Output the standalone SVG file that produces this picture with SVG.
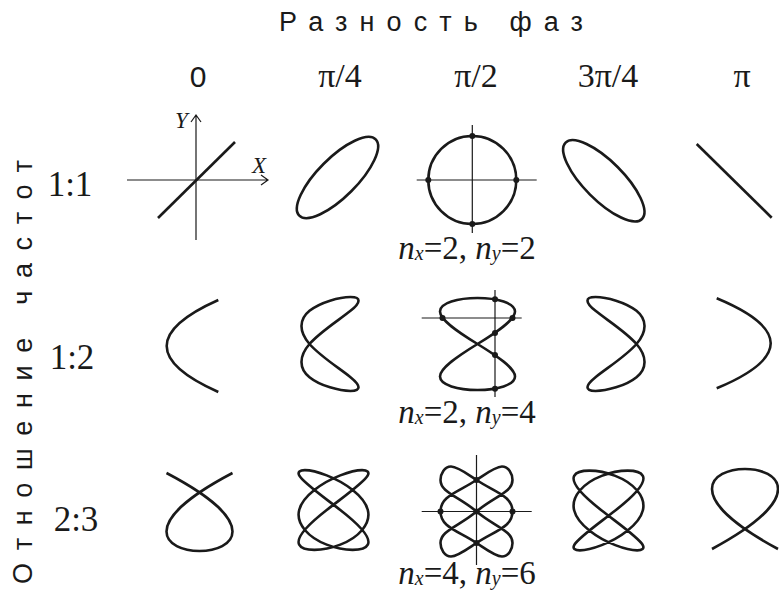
<svg xmlns="http://www.w3.org/2000/svg" width="779" height="593" viewBox="0 0 779 593">
<style>
.c{fill:none;stroke:#1a1a1a;stroke-width:2.6;stroke-linejoin:round;stroke-linecap:butt}
.a{fill:none;stroke:#1a1a1a;stroke-width:1.2}
.d{fill:#1a1a1a}
.sans{font-family:"Liberation Sans",Arial,sans-serif;fill:#1a1a1a}
.serif{font-family:"Liberation Serif","Times New Roman",serif;fill:#1a1a1a}
</style>
<rect width="779" height="593" fill="#fff"/>
<g id="titles">
<text class="sans" x="279" y="31" font-size="27" textLength="304" lengthAdjust="spacing">Разность фаз</text>
<text class="sans" transform="translate(32,584) rotate(-90)" font-size="27" textLength="424" lengthAdjust="spacing">Отношение частот</text>
<text class="sans" x="198" y="87" font-size="30" text-anchor="middle">0</text>
<text class="serif" x="340" y="87" font-size="34" text-anchor="middle">π/4</text>
<text class="serif" x="476" y="87" font-size="34" text-anchor="middle">π/2</text>
<text class="serif" x="608" y="87" font-size="34" text-anchor="middle">3π/4</text>
<text class="serif" x="742" y="87" font-size="34" text-anchor="middle">π</text>
<text class="serif" x="70" y="196" font-size="35" text-anchor="middle">1:1</text>
<text class="serif" x="72" y="369" font-size="35" text-anchor="middle">1:2</text>
<text class="serif" x="76" y="531" font-size="35" text-anchor="middle">2:3</text>
</g>
<g id="r1c0">
<path class="a" d="M127,180H267M261,175L268,180L261,185M196,240V116M191,122L196,115L201,122"/>
<text class="serif" x="175" y="128" font-size="23" font-style="italic">Y</text>
<text class="serif" x="252" y="173" font-size="23" font-style="italic">X</text>
<path class="c" d="M158,218L235,142"/>
</g>
<g id="r1c1"><ellipse class="c" cx="337.5" cy="177.5" rx="54" ry="19.5" transform="rotate(-45 337.5 177.5)"/></g>
<g id="r1c2">
<path class="a" d="M416.7,180H536.7M472.3,125V233"/>
<circle class="c" cx="472.3" cy="180" r="44"/>
<circle class="d" cx="472.3" cy="136" r="3"/><circle class="d" cx="472.3" cy="224" r="3"/>
<circle class="d" cx="428.3" cy="180" r="3"/><circle class="d" cx="516.3" cy="180" r="3"/>
<text class="serif" x="467" y="259" font-size="33" text-anchor="middle"><tspan font-style="italic">n</tspan><tspan font-style="italic" font-size="20" dy="1">x</tspan><tspan dy="-1">=2, </tspan><tspan font-style="italic">n</tspan><tspan font-style="italic" font-size="20" dy="1">y</tspan><tspan dy="-1">=2</tspan></text>
</g>
<g id="r1c3"><ellipse class="c" cx="603.8" cy="180.8" rx="54" ry="19.5" transform="rotate(45 603.8 180.8)"/></g>
<g id="r1c4"><path class="c" d="M696.7,144L771.7,217.7"/></g>
<g id="r2c0"><path class="c" d="M218.3,300Q115.1,346 218.3,392"/></g>
<g id="r2c1"><path class="c" d="M309.5,344C320.2,331.7 339.8,319.5 350.5,310.8C361.2,302.1 361.2,297 350.5,297C339.8,297 320.2,302.1 309.5,310.8C298.8,319.5 298.8,331.7 309.5,344C320.2,356.3 339.8,368.5 350.5,377.2C361.2,385.9 361.2,391 350.5,391C339.8,391 320.2,385.9 309.5,377.2C298.8,368.5 298.8,356.3 309.5,344Z"/></g>
<g id="r2c2">
<path class="a" d="M421.7,318H521.7M495,290V397"/>
<path class="c" d="M477.5,344C497.1,332 515,320 515,311.5C515,303 497.1,298 477.5,298C457.9,298 440,303 440,311.5C440,320 457.9,332 477.5,344C497.1,356 515,368 515,376.5C515,385 497.1,390 477.5,390C457.9,390 440,385 440,376.5C440,368 457.9,356 477.5,344Z"/>
<circle class="d" cx="442.5" cy="318" r="3"/><circle class="d" cx="512.5" cy="318" r="3"/>
<circle class="d" cx="495" cy="299.3" r="3"/><circle class="d" cx="495" cy="332.9" r="3"/>
<circle class="d" cx="495" cy="355.1" r="3"/><circle class="d" cx="495" cy="388.7" r="3"/>
<text class="serif" x="467" y="423" font-size="33" text-anchor="middle"><tspan font-style="italic">n</tspan><tspan font-style="italic" font-size="20" dy="1">x</tspan><tspan dy="-1">=2, </tspan><tspan font-style="italic">n</tspan><tspan font-style="italic" font-size="20" dy="1">y</tspan><tspan dy="-1">=4</tspan></text>
</g>
<g id="r2c3"><path class="c" d="M636.5,344C625.8,331.7 606.2,319.5 595.5,310.8C584.8,302.1 584.8,297 595.5,297C606.2,297 625.8,302.1 636.5,310.8C647.2,319.5 647.2,331.7 636.5,344C625.8,356.3 606.2,368.5 595.5,377.2C584.8,385.9 584.8,391 595.5,391C606.2,391 625.8,385.9 636.5,377.2C647.2,368.5 647.2,356.3 636.5,344Z"/></g>
<g id="r2c4"><path class="c" d="M716.7,298.3Q824.7,343.3 716.7,388.3"/></g>
<g id="r3c0"><path class="c" d="M166.5,473C364.5,577 34.5,577 232.5,473"/></g>
<g id="r3c1"><path class="c" d="M326.7,510C344.6,496 364.3,482.3 367.8,475.4C371.4,468.4 358.3,468.4 340.3,475.4C322.4,482.3 302.7,496 299.2,510C295.6,524 308.7,537.7 326.7,544.6C344.6,551.6 364.3,551.6 367.8,544.6C371.4,537.7 358.3,524 340.3,510C322.4,496 302.7,482.3 299.2,475.4C295.6,468.4 308.7,468.4 326.7,475.4C344.6,482.3 364.3,496 367.8,510C371.4,524 358.3,537.7 340.3,544.6C322.4,551.6 302.7,551.6 299.2,544.6C295.6,537.7 308.7,524 326.7,510Z"/></g>
<g id="r3c2">
<path class="a" d="M421.7,511.5H531.7M476.5,455V565"/>
<path class="c" d="M476.5,511.5C495.35,495.8 512.5,492.4 512.5,480C512.5,473.8 508.6,466.5 502,466.5C495.3,466.5 485.9,473.8 476.5,480C457.65,492.4 440.5,495.8 440.5,511.5C440.5,527.2 457.65,530.6 476.5,543C485.9,549.2 495.3,556.5 502,556.5C508.6,556.5 512.5,549.2 512.5,543C512.5,530.6 495.35,527.2 476.5,511.5C457.65,495.8 440.5,492.4 440.5,480C440.5,473.8 444.4,466.5 451,466.5C457.7,466.5 467.1,473.8 476.5,480C495.35,492.4 512.5,495.8 512.5,511.5C512.5,527.2 495.35,530.6 476.5,543C467.1,549.2 457.7,556.5 451,556.5C444.4,556.5 440.5,549.2 440.5,543C440.5,530.6 457.65,527.2 476.5,511.5Z"/>
<circle class="d" cx="476.5" cy="480" r="3"/><circle class="d" cx="476.5" cy="511.5" r="3"/><circle class="d" cx="476.5" cy="543" r="3"/>
<circle class="d" cx="440.5" cy="511.5" r="3"/><circle class="d" cx="512.5" cy="511.5" r="3"/>
<text class="serif" x="467" y="584" font-size="33" text-anchor="middle"><tspan font-style="italic">n</tspan><tspan font-style="italic" font-size="20" dy="1">x</tspan><tspan dy="-1">=4, </tspan><tspan font-style="italic">n</tspan><tspan font-style="italic" font-size="20" dy="1">y</tspan><tspan dy="-1">=6</tspan></text>
</g>
<g id="r3c3"><path class="c" d="M601.7,510.5C619.6,524.5 639.3,538.2 642.8,545.1C646.4,552.1 633.3,552.1 615.3,545.1C597.4,538.2 577.7,524.5 574.2,510.5C570.6,496.5 583.7,482.8 601.7,475.9C619.6,468.9 639.3,468.9 642.8,475.9C646.4,482.8 633.3,496.5 615.3,510.5C597.4,524.5 577.7,538.2 574.2,545.1C570.6,552.1 583.7,552.1 601.7,545.1C619.6,538.2 639.3,524.5 642.8,510.5C646.4,496.5 633.3,482.8 615.3,475.9C597.4,468.9 577.7,468.9 574.2,475.9C570.6,482.8 583.7,496.5 601.7,510.5Z"/></g>
<g id="r3c4"><path class="c" d="M712,549C910,442.3 580,442.3 778,549"/></g>
</svg>
